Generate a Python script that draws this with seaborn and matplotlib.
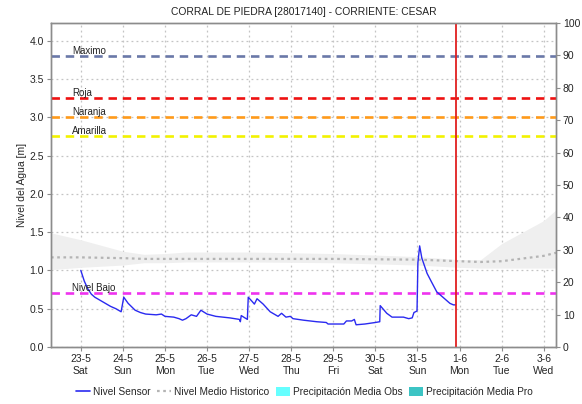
import matplotlib
matplotlib.use("Agg")
import matplotlib.pyplot as plt
import matplotlib.dates as mdates
from matplotlib.lines import Line2D
from matplotlib.patches import Patch
import pandas as pd
import seaborn as sns

# ---- data -------------------------------------------------------------
title = "CORRAL DE PIEDRA [28017140] - CORRIENTE: CESAR"

sensor_times = [
    "2020-05-23 00:00", "2020-05-23 02:00", "2020-05-23 04:00", "2020-05-23 06:00",
    "2020-05-23 08:00", "2020-05-23 11:00", "2020-05-23 14:00", "2020-05-23 17:00",
    "2020-05-23 20:00", "2020-05-23 23:00", "2020-05-24 00:30", "2020-05-24 03:00",
    "2020-05-24 07:00", "2020-05-24 10:00", "2020-05-24 13:00", "2020-05-24 19:00",
    "2020-05-24 22:00", "2020-05-25 00:00", "2020-05-25 05:00", "2020-05-25 08:00",
    "2020-05-25 10:00", "2020-05-25 12:00", "2020-05-25 15:00", "2020-05-25 18:00",
    "2020-05-25 20:30", "2020-05-26 00:00", "2020-05-26 05:00", "2020-05-26 13:00",
    "2020-05-26 18:30", "2020-05-26 19:00", "2020-05-26 19:30", "2020-05-26 23:00",
    "2020-05-26 23:30", "2020-05-27 01:30", "2020-05-27 03:00", "2020-05-27 04:30",
    "2020-05-27 08:00", "2020-05-27 12:00", "2020-05-27 16:30", "2020-05-27 18:30",
    "2020-05-27 21:00", "2020-05-27 23:30", "2020-05-28 01:00", "2020-05-28 07:00",
    "2020-05-28 14:30", "2020-05-28 20:00", "2020-05-28 21:00", "2020-05-29 06:00",
    "2020-05-29 07:30", "2020-05-29 10:30", "2020-05-29 12:00", "2020-05-29 13:00",
    "2020-05-29 18:00", "2020-05-30 00:00", "2020-05-30 02:30", "2020-05-30 02:45",
    "2020-05-30 06:30", "2020-05-30 09:30", "2020-05-30 16:00", "2020-05-30 19:00",
    "2020-05-30 21:00", "2020-05-30 22:00", "2020-05-30 23:45", "2020-05-31 00:15",
    "2020-05-31 01:15", "2020-05-31 02:30", "2020-05-31 05:30", "2020-05-31 08:00",
    "2020-05-31 11:00", "2020-05-31 15:00", "2020-05-31 18:30", "2020-05-31 20:30",
    "2020-05-31 21:45",
]
sensor_level = [
    1.00, 0.86, 0.76, 0.69,
    0.65, 0.61, 0.57, 0.53,
    0.50, 0.46, 0.65, 0.57,
    0.48, 0.45, 0.43, 0.42,
    0.43, 0.40, 0.39, 0.37,
    0.35, 0.37, 0.42, 0.40,
    0.48, 0.43, 0.40, 0.38,
    0.36, 0.33, 0.41, 0.36,
    0.65, 0.60, 0.56, 0.63,
    0.56, 0.46, 0.40, 0.44,
    0.39, 0.40, 0.37, 0.35,
    0.33, 0.32, 0.30, 0.30,
    0.34, 0.34, 0.36, 0.29,
    0.30, 0.32, 0.33, 0.54,
    0.44, 0.39, 0.39, 0.37,
    0.38, 0.45, 0.47, 1.10,
    1.32, 1.16, 0.96, 0.85,
    0.72, 0.64, 0.57, 0.55,
    0.55,
]

hist_times = [
    "2020-05-22 07:00", "2020-05-23 00:00", "2020-05-24 00:00", "2020-05-24 12:00",
    "2020-05-25 00:00", "2020-05-25 12:00", "2020-05-27 00:00", "2020-05-29 00:00",
    "2020-05-31 00:00", "2020-06-01 00:00", "2020-06-01 12:00", "2020-06-02 00:00",
    "2020-06-03 00:00", "2020-06-03 07:00",
]
hist_mean = [1.17, 1.17, 1.16, 1.15, 1.15, 1.15, 1.15, 1.15, 1.14, 1.12, 1.11, 1.12, 1.19, 1.23]
hist_low = [1.01, 1.04, 1.07, 1.10, 1.10, 1.11, 1.11, 1.10, 1.07, 1.04, 1.03, 1.03, 1.03, 1.03]
hist_high = [1.49, 1.40, 1.25, 1.21, 1.22, 1.24, 1.24, 1.22, 1.18, 1.14, 1.14, 1.35, 1.65, 1.79]

threshold_names = ["Maximo", "Roja", "Naranja", "Amarilla", "Nivel Bajo"]
threshold_values = [3.80, 3.25, 3.00, 2.75, 0.70]
threshold_colors = ["#6a78a8", "#ee1111", "#ff9a1a", "#f2f200", "#ee33ee"]

now_time = "2020-05-31 21:45"
x_start, x_end = "2020-05-22 07:00", "2020-06-03 07:00"

tick_dates = ["2020-05-23", "2020-05-24", "2020-05-25", "2020-05-26", "2020-05-27",
              "2020-05-28", "2020-05-29", "2020-05-30", "2020-05-31", "2020-06-01",
              "2020-06-02", "2020-06-03"]
tick_labels = ["23-5\nSat", "24-5\nSun", "25-5\nMon", "26-5\nTue", "27-5\nWed",
               "28-5\nThu", "29-5\nFri", "30-5\nSat", "31-5\nSun", "1-6\nMon",
               "2-6\nTue", "3-6\nWed"]

left_ticks = [0.0, 0.5, 1.0, 1.5, 2.0, 2.5, 3.0, 3.5, 4.0]
right_ticks = [0, 10, 20, 30, 40, 50, 60, 70, 80, 90, 100]

# ---- styling ----------------------------------------------------------
sns.set_style("white")
plt.rcParams["font.family"] = ["Liberation Sans", "DejaVu Sans"]
plt.rcParams["font.size"] = 7.5

FRAME = "#8c8c8c"
GRID = "#c4c4c4"

sensor = pd.DataFrame({"time": pd.to_datetime(sensor_times), "level": sensor_level})
hist = pd.DataFrame({"time": pd.to_datetime(hist_times), "mean": hist_mean,
                     "low": hist_low, "high": hist_high})

fig = plt.figure(figsize=(5.82, 4.04), dpi=100)
ax = fig.add_axes([0.0876, 0.1411, 0.8677, 0.8020])

# historical envelope and mean
ax.fill_between(hist["time"], hist["low"], hist["high"], color="#efefef", lw=0, zorder=1)
sns.lineplot(data=hist, x="time", y="mean", ax=ax, color="#b4b4b4", lw=1.6,
             linestyle=(0, (1.2, 1.6)), estimator=None, sort=False, zorder=2)

# alert thresholds
for name, val, col in zip(threshold_names, threshold_values, threshold_colors):
    ax.axhline(val, color=col, lw=1.9, linestyle=(0, (3.2, 2.2)), zorder=3)
    ax.text(pd.Timestamp("2020-05-22 19:00"), val + 0.005, name, fontsize=7,
            color="#222222", ha="left", va="bottom", zorder=5)

# sensor level
sns.lineplot(data=sensor, x="time", y="level", ax=ax, color="#2a2af0", lw=1.0,
             estimator=None, sort=False, zorder=4)

# current time marker
ax.axvline(pd.Timestamp(now_time), color="#e02020", lw=1.3, zorder=6)

ax.set_xlim(pd.Timestamp(x_start), pd.Timestamp(x_end))
ax.set_ylim(0, 4.23)
ax.set_yticks(left_ticks)
ax.set_yticklabels([f"{v:.1f}" for v in left_ticks])
ax.set_xticks(pd.to_datetime(tick_dates))
ax.set_xticklabels(tick_labels, linespacing=1.25)
ax.xaxis.set_minor_locator(mdates.HourLocator(byhour=range(0, 24, 3)))
ax.set_xlabel("")
ax.set_ylabel("Nivel del Agua [m]", fontsize=7.5, labelpad=2)

ax.grid(True, which="major", color=GRID, lw=0.9, linestyle=(0, (1.5, 2.5)))
for sp in ax.spines.values():
    sp.set_color(FRAME)
    sp.set_linewidth(1.0)
ax.tick_params(axis="both", which="major", direction="out", length=3, width=0.8,
               color=FRAME, labelsize=7.5, pad=2)
ax.tick_params(axis="x", which="minor", direction="out", length=1.5, width=0.6, color=FRAME)
ax.tick_params(axis="y", left=True)
ax.tick_params(axis="x", bottom=True)

# secondary (precipitation) axis
ax2 = ax.twinx()
ax2.set_ylim(0, 100)
ax2.set_yticks(right_ticks)
ax2.set_yticklabels([str(v) for v in right_ticks])
ax2.tick_params(axis="y", direction="out", length=3, width=0.8, color=FRAME,
                labelsize=7.5, pad=2, right=True)
for sp in ax2.spines.values():
    sp.set_color(FRAME)
    sp.set_linewidth(1.0)
ax2.grid(False)

ax.set_title(title, fontsize=7.4, pad=6, color="#222222")

handles = [
    Line2D([], [], color="#2a2af0", lw=1.2),
    Line2D([], [], color="#b4b4b4", lw=1.6, linestyle=(0, (1.2, 1.6))),
    Patch(facecolor="#66ffff", edgecolor="none"),
    Patch(facecolor="#3cc4c4", edgecolor="none"),
]
labels = ["Nivel Sensor", "Nivel Medio Historico", "Precipitación Media Obs",
          "Precipitación Media Pro"]
fig.legend(handles, labels, loc="center", bbox_to_anchor=(0.523, 0.03), ncol=4,
           frameon=False, fontsize=7.3, handlelength=1.4, handleheight=0.9,
           handletextpad=0.3, columnspacing=0.6, borderpad=0.1)

fig.savefig("out.png", dpi=100)
